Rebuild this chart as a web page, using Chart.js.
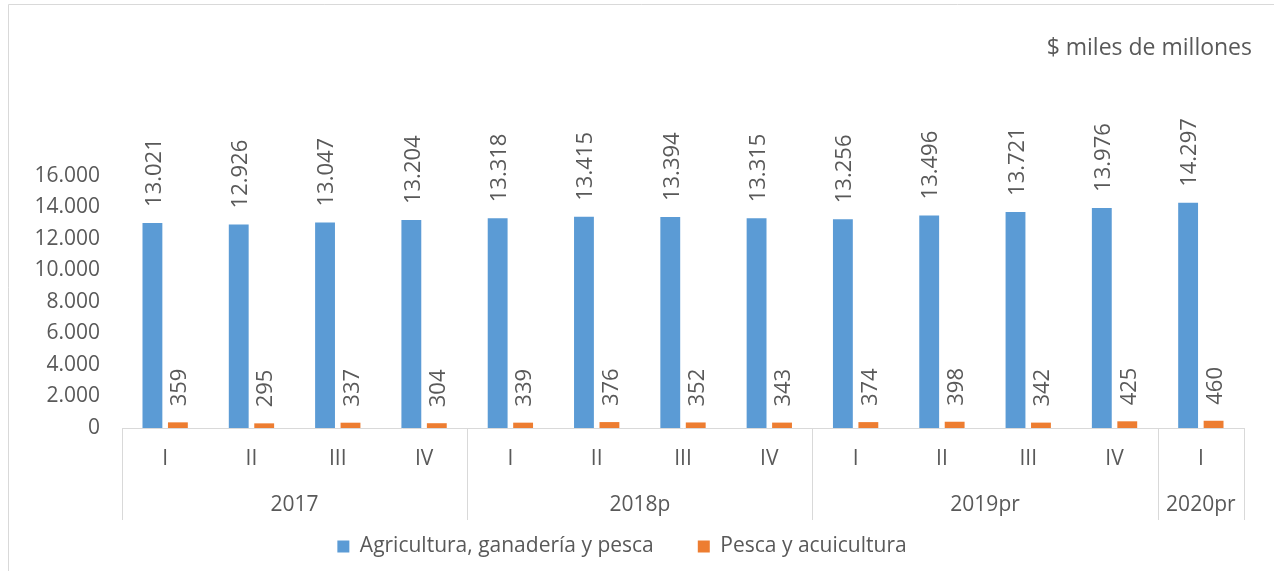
<!DOCTYPE html>
<html>
<head>
<meta charset="utf-8">
<script src="https://cdn.jsdelivr.net/npm/chart.js@4.4.1/dist/chart.umd.min.js"></script>
<style>
  html, body { margin: 0; padding: 0; background: #fff; }
  #wrap { width: 1274px; height: 571px; }
</style>
</head>
<body>
<div id="wrap"><canvas id="chart" width="1274" height="571"></canvas></div>
<script>
// --- data ---
const quarters = ['I', 'II', 'III', 'IV', 'I', 'II', 'III', 'IV', 'I', 'II', 'III', 'IV', 'I'];
const years = ['2017', '2018p', '2019pr', '2020pr'];
const quartersPerYear = [4, 4, 4, 1];
const agricultura = [13021, 12926, 13047, 13204, 13318, 13415, 13394, 13315, 13256, 13496, 13721, 13976, 14297];
const pesca = [359, 295, 337, 304, 339, 376, 352, 343, 374, 398, 342, 425, 460];
const yTicks = [0, 2000, 4000, 6000, 8000, 10000, 12000, 14000, 16000];
const unitsLabel = '$ miles de millones';

const textColor = '#595959';
const lineColor = '#d9d9d9';
const fontFamily = '"Open Sans", "Liberation Sans", sans-serif';

function fmt(v) {
    return String(v).replace(/\B(?=(\d{3})+(?!\d))/g, '.');
}

// frame + units label
const framePlugin = {
    id: 'frame',
    beforeDraw(chart) {
        const ctx = chart.ctx;
        ctx.save();
        ctx.fillStyle = '#fff';
        ctx.fillRect(0, 0, chart.width, chart.height);
        ctx.strokeStyle = lineColor;
        ctx.lineWidth = 1;
        ctx.beginPath();
        ctx.moveTo(8.5, chart.height);
        ctx.lineTo(8.5, 4.5);
        ctx.lineTo(chart.width, 4.5);
        ctx.stroke();
        ctx.restore();
    },
    afterDraw(chart) {
        const ctx = chart.ctx;
        ctx.save();
        ctx.fillStyle = textColor;
        ctx.font = '23px ' + fontFamily;
        ctx.textAlign = 'right';
        ctx.textBaseline = 'middle';
        ctx.fillText(unitsLabel, 1252, 48);
        ctx.restore();
    }
};

// rotated value labels above each bar
const valueLabels = {
    id: 'valueLabels',
    afterDatasetsDraw(chart) {
        const ctx = chart.ctx;
        ctx.save();
        ctx.fillStyle = textColor;
        ctx.font = '22px ' + fontFamily;
        ctx.textAlign = 'left';
        ctx.textBaseline = 'middle';
        chart.data.datasets.forEach((ds, i) => {
            const meta = chart.getDatasetMeta(i);
            meta.data.forEach((bar, j) => {
                ctx.save();
                ctx.translate(bar.x + 2, bar.y - 16);
                ctx.rotate(-Math.PI / 2);
                ctx.fillText(fmt(ds.data[j]), 0, 0);
                ctx.restore();
            });
        });
        ctx.restore();
    }
};

// year row of the category axis, with separators
const yearAxis = {
    id: 'yearAxis',
    afterDraw(chart) {
        const ctx = chart.ctx;
        const x = chart.scales.x;
        const top = chart.chartArea.bottom;
        const bottom = 520;
        const step = (x.right - x.left) / quarters.length;
        ctx.save();
        ctx.strokeStyle = lineColor;
        ctx.lineWidth = 1;
        ctx.fillStyle = textColor;
        ctx.font = '21px ' + fontFamily;
        ctx.textAlign = 'center';
        ctx.textBaseline = 'middle';
        let start = 0;
        const edges = [x.left];
        years.forEach((yr, k) => {
            const end = start + quartersPerYear[k];
            const x0 = x.getPixelForValue(start) - step / 2;
            const x1 = x.getPixelForValue(end - 1) + step / 2;
            edges.push(x1);
            ctx.fillText(yr, (x0 + x1) / 2, 505);
            start = end;
        });
        edges.forEach(e => {
            const px = Math.round(e) + 0.5;
            ctx.beginPath();
            ctx.moveTo(px, top);
            ctx.lineTo(px, bottom);
            ctx.stroke();
        });
        ctx.restore();
    }
};

const ctx = document.getElementById('chart').getContext('2d');
new Chart(ctx, {
    type: 'bar',
    data: {
        labels: quarters,
        datasets: [{
            label: 'Agricultura, ganadería y pesca',
            data: agricultura,
            backgroundColor: '#5b9bd5',
            borderWidth: 0,
            categoryPercentage: 0.59,
            barPercentage: 0.78
        }, {
            label: 'Pesca y acuicultura',
            data: pesca,
            backgroundColor: '#ed7d31',
            borderWidth: 0,
            categoryPercentage: 0.59,
            barPercentage: 0.78
        }]
    },
    options: {
        responsive: false,
        animation: false,
        devicePixelRatio: 1,
        layout: {
            padding: { top: 176, right: 30, bottom: 4, left: 0 }
        },
        scales: {
            x: {
                grid: { display: false, drawTicks: false },
                border: { display: true, color: lineColor, width: 1 },
                ticks: {
                    color: textColor,
                    font: { family: fontFamily, size: 21 },
                    padding: 18,
                    maxRotation: 0,
                    autoSkip: false
                },
                afterFit(scale) { scale.height = 64; }
            },
            y: {
                min: 0,
                max: 16000,
                afterBuildTicks(scale) {
                    scale.ticks = yTicks.map(v => ({ value: v }));
                },
                grid: { display: false, drawTicks: false },
                border: { display: false },
                ticks: {
                    color: textColor,
                    font: { family: fontFamily, size: 21 },
                    padding: 22,
                    callback: v => fmt(v)
                },
                afterFit(scale) { scale.width = 122; }
            }
        },
        plugins: {
            title: { display: false },
            tooltip: { enabled: false },
            legend: {
                position: 'bottom',
                labels: {
                    color: textColor,
                    font: { family: fontFamily, size: 21 },
                    boxWidth: 12,
                    boxHeight: 12,
                    padding: 44
                }
            }
        }
    },
    plugins: [framePlugin, valueLabels, yearAxis]
});
</script>
</body>
</html>
